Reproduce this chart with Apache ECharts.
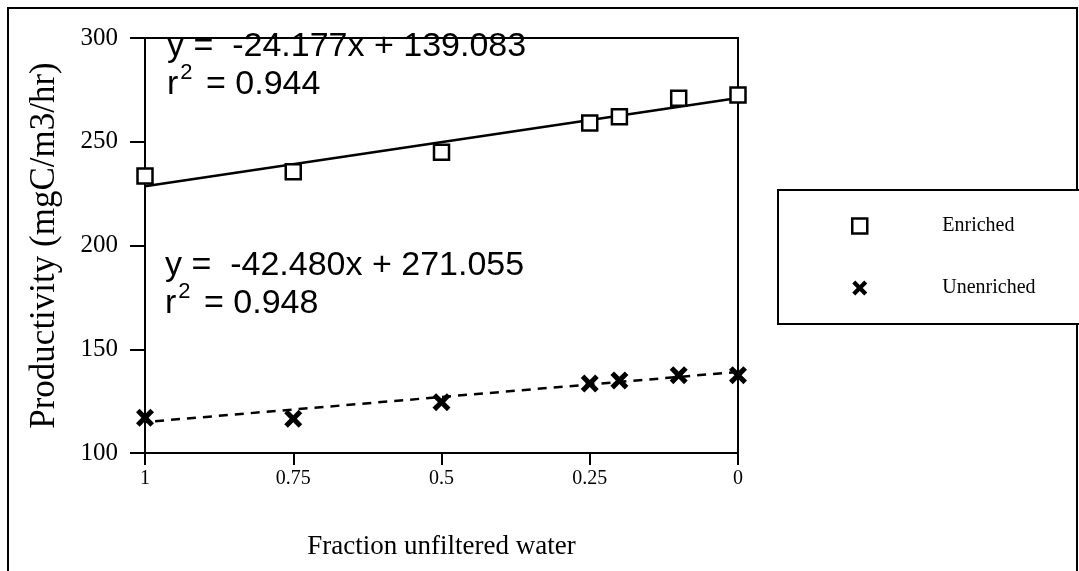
<!DOCTYPE html>
<html><head><meta charset="utf-8">
<script src="https://cdn.jsdelivr.net/npm/echarts@6/dist/echarts.min.js"></script>
<style>html,body{margin:0;padding:0;background:#fff}#c{width:1079px;height:571px}</style>
</head><body><div id="c"></div>
<script>
// ---- data ----
const fractions = [1, 0.75, 0.5, 0.25, 0.2, 0.1, 0];
const enriched = [233.5, 235.5, 245, 259, 262, 271, 272.5];
const unenriched = [117, 116.5, 124.5, 133.5, 135, 137.5, 137.5];
const seriesNames = ['Enriched', 'Unenriched'];
const fitSlopes = [-42.480, -24.177];      // regression lines (enriched, unenriched)
const fitIntercepts = [271.055, 139.083];
const eqLabels = ['y =  -24.177x + 139.083', 'y =  -42.480x + 271.055'];
const r2Labels = ['0.944', '0.948'];
const xTicks = [1, 0.75, 0.5, 0.25, 0];
const yTicks = [100, 150, 200, 250, 300];

const serif = "'Liberation Serif','Times New Roman',serif";
const sans = "'Liberation Sans',Arial,sans-serif";
const xPath = 'path://M0,2L2,0L5,3L8,0L10,2L7,5L10,8L8,10L5,7L2,10L0,8L3,5Z';

function fitLine(i) {
  return [[0, fitIntercepts[i]], [1, fitIntercepts[i] + fitSlopes[i]]];
}
function eqGraphic(i, x, y) {
  return [
    {type: 'text', x: x, y: y, style: {text: eqLabels[i], font: '34px ' + sans, fill: '#000', textVerticalAlign: 'middle'}},
    {type: 'text', x: x, y: y + 35, style: {
      text: '{a|r}{s|2}{a| = ' + r2Labels[i] + '}', textVerticalAlign: 'middle', fill: '#000',
      rich: {a: {fontSize: 34, fontFamily: sans, lineHeight: 40, verticalAlign: 'bottom'},
             s: {fontSize: 22, fontFamily: sans, lineHeight: 40, verticalAlign: 'top', padding: [0, 4, 0, 2]}}
    }}
  ];
}

const chart = echarts.init(document.getElementById('c'), null, {renderer: 'canvas'});
chart.setOption({
  animation: false,
  backgroundColor: '#fff',
  grid: {left: 145, top: 38, width: 593, height: 415, show: true, borderColor: '#000', borderWidth: 2},
  xAxis: {
    type: 'value', inverse: true, min: 0, max: 1, interval: 0.25,
    axisLine: {show: true, onZero: false, lineStyle: {color: '#000', width: 2}},
    axisTick: {show: true, length: 12, lineStyle: {color: '#000', width: 2}},
    splitLine: {show: false},
    axisLabel: {color: '#000', fontFamily: serif, fontSize: 20, margin: 16,
      formatter: v => xTicks.includes(v) ? String(v) : ''},
    name: 'Fraction unfiltered water', nameLocation: 'middle', nameGap: 80,
    nameTextStyle: {color: '#000', fontFamily: serif, fontSize: 27}
  },
  yAxis: {
    type: 'value', min: 100, max: 300, interval: 50,
    axisLine: {show: true, onZero: false, lineStyle: {color: '#000', width: 2}},
    axisTick: {show: true, length: 15, lineStyle: {color: '#000', width: 2}},
    splitLine: {show: false},
    axisLabel: {color: '#000', fontFamily: serif, fontSize: 25, margin: 27,
      formatter: v => yTicks.includes(v) ? String(v) : ''},
    name: 'Productivity (mgC/m3/hr)', nameLocation: 'middle', nameGap: 83,
    nameTextStyle: {color: '#000', fontFamily: serif, fontSize: 35}
  },
  legend: {
    orient: 'vertical', left: 778, top: 190,
    padding: [26, 80, 26, 73], itemGap: 42, itemWidth: 15, itemHeight: 15,
    borderColor: '#000', borderWidth: 2, backgroundColor: '#fff',
    data: seriesNames,
    itemStyle: {borderWidth: 2.5},
    textStyle: {color: '#000', fontFamily: serif, fontSize: 20, lineHeight: 20, padding: [0, 0, 0, 70]}
  },
  graphic: [
    {type: 'rect', shape: {x: 8, y: 8, width: 1069, height: 620}, style: {fill: 'none', stroke: '#000', lineWidth: 2}, silent: true}
  ].concat(eqGraphic(0, 167, 47)).concat(eqGraphic(1, 165, 266)),
  series: [
    {type: 'line', data: fitLine(0), symbol: 'none', silent: true, lineStyle: {color: '#000', width: 2.5}, z: 2},
    {type: 'line', data: fitLine(1), symbol: 'none', silent: true, lineStyle: {color: '#000', width: 2.5, type: [9, 7]}, z: 2},
    {name: seriesNames[0], type: 'scatter', data: fractions.map((f, i) => [f, enriched[i]]),
      symbol: 'rect', symbolSize: 15, itemStyle: {color: '#fff', borderColor: '#000', borderWidth: 2.5, opacity: 1}, z: 3},
    {name: seriesNames[1], type: 'scatter', data: fractions.map((f, i) => [f, unenriched[i]]),
      symbol: xPath, symbolSize: 18, symbolKeepAspect: true, itemStyle: {color: '#000', opacity: 1}, z: 3}
  ]
});
</script></body></html>
